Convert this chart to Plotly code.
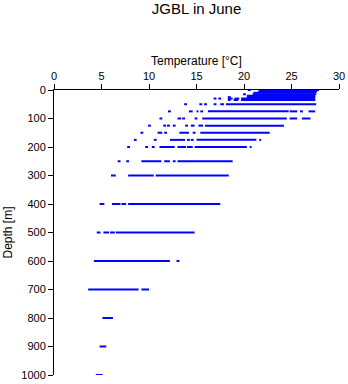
import plotly.graph_objects as go

title_text = "JGBL in June"
x_title = "Temperature [°C]"
y_title = "Depth [m]"
x_ticks = [0, 5, 10, 15, 20, 25, 30]
y_ticks = [0, 100, 200, 300, 400, 500, 600, 700, 800, 900, 1000]

# observed temperature streaks: depth [m], lowest and highest temperature [°C]
seg_depth = [0, 0,
             5,
             10,
             15, 15,
             20,
             25, 25,
             30, 30, 30, 30, 30,
             35, 35, 35,
             50, 50, 50, 50, 50, 50,
             75, 75, 75, 75, 75, 75, 75, 75,
             100, 100, 100, 100, 100, 100, 100,
             125, 125, 125, 125, 125, 125, 125, 125,
             150, 150, 150, 150, 150, 150,
             175, 175, 175, 175, 175, 175, 175,
             200, 200, 200, 200, 200, 200, 200, 200,
             250, 250, 250, 250, 250, 250,
             300, 300, 300,
             400, 400, 400, 400,
             500, 500, 500, 500,
             600, 600,
             700, 700,
             800,
             900,
             1000]
seg_tmin = [20.4, 21.6,
            21.5,
            21.0,
            19.9, 20.9,
            20.3,
            18.3, 20.3,
            16.8, 17.3, 18.3, 19.0, 19.7,
            18.3, 18.9, 19.7,
            13.7, 15.3, 15.8, 16.8, 17.5, 18.1,
            12.0, 14.2, 15.0, 15.4, 16.2, 24.8, 25.9, 26.8,
            11.1, 13.0, 13.5, 14.8, 15.6, 24.8, 26.1,
            9.9, 11.5, 11.9, 12.5, 13.8, 14.4, 15.2, 15.9,
            9.1, 10.9, 11.6, 13.2, 14.6, 15.4,
            8.4, 10.5, 12.2, 14.0, 14.4, 15.0, 21.6,
            7.7, 9.6, 10.3, 11.1, 13.0, 14.0, 14.8, 20.6,
            6.7, 7.6, 9.2, 11.6, 12.5, 13.0,
            6.0, 7.8, 10.7,
            4.8, 6.1, 7.1, 7.8,
            4.5, 5.2, 5.9, 6.5,
            4.2, 12.9,
            3.6, 9.2,
            5.1,
            4.8,
            4.4]
seg_tmax = [20.7, 27.9,
            27.7,
            27.6,
            20.2, 27.6,
            27.5,
            18.6, 27.5,
            17.1, 17.6, 18.8, 19.5, 27.5,
            18.6, 19.4, 27.5,
            14.0, 15.6, 16.1, 17.1, 17.9, 27.6,
            12.3, 14.6, 15.2, 15.7, 24.7, 25.6, 26.2, 27.5,
            11.4, 13.4, 13.8, 15.1, 24.5, 25.6, 27.0,
            10.2, 11.8, 12.2, 12.8, 14.1, 14.8, 15.7, 24.2,
            9.4, 11.4, 11.9, 14.2, 14.9, 22.7,
            8.7, 10.8, 13.8, 14.3, 14.7, 21.3, 21.8,
            8.0, 9.9, 10.6, 12.7, 13.9, 14.6, 20.3, 20.8,
            7.0, 7.9, 11.3, 12.2, 12.8, 18.8,
            6.5, 10.5, 18.4,
            5.3, 7.0, 7.6, 17.5,
            4.9, 5.8, 6.4, 14.8,
            12.2, 13.2,
            8.9, 10.0,
            6.2,
            5.5,
            5.1]

xs, ys = [], []
for d, a, b in zip(seg_depth, seg_tmin, seg_tmax):
    xs += [a, b, None]
    ys += [d, d, None]

fig = go.Figure()
fig.add_trace(go.Scatter(x=xs, y=ys, mode="lines",
                         line=dict(color="#0000FF", width=2),
                         connectgaps=False, showlegend=False,
                         hoverinfo="skip"))

font_family = "Liberation Sans, Arial, sans-serif"
fig.update_layout(
    width=348, height=384,
    margin=dict(l=54, r=9, t=90, b=9, autoexpand=False),
    paper_bgcolor="white", plot_bgcolor="white",
    font=dict(family=font_family, color="black", size=11),
    title=dict(text=title_text, x=196.5 / 348, xanchor="center",
               y=1 - 8.5 / 384, yanchor="middle", yref="container",
               font=dict(size=15, family=font_family, color="black")),
    showlegend=False,
)
# x-axis title placed as annotation just above the top tick labels
fig.add_annotation(text=x_title, xref="paper", yref="paper",
                   x=0.5, y=1 + (90 - 61) / 285, xanchor="center", yanchor="middle",
                   showarrow=False, font=dict(size=12, family=font_family, color="black"))
fig.update_xaxes(
    side="top", range=[0, 30], tickvals=x_ticks, ticktext=[str(v) for v in x_ticks],
    ticks="outside", ticklen=5, tickwidth=1, tickcolor="black",
    showline=True, linecolor="black", linewidth=1, mirror=False,
    showgrid=False, zeroline=False, layer="below traces",
    tickfont=dict(size=11), automargin=False,
)
fig.update_yaxes(
    range=[1000, 0], tickvals=y_ticks, ticktext=[str(v) for v in y_ticks],
    ticks="outside", ticklen=5, tickwidth=1, tickcolor="black",
    showline=True, linecolor="black", linewidth=1, mirror=False,
    showgrid=False, zeroline=False, layer="below traces",
    tickfont=dict(size=11), automargin=False,
    title=dict(text=y_title, font=dict(size=12), standoff=6),
)

fig.write_html("out.html")
